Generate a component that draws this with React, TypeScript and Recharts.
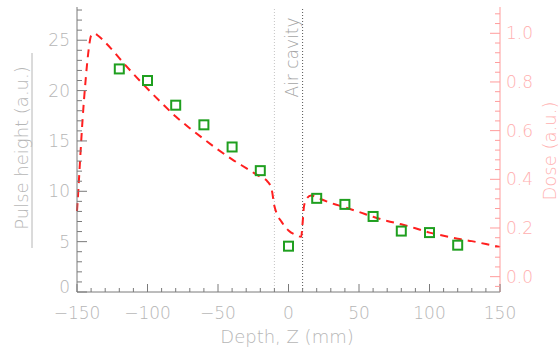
import { ComposedChart, Line, Scatter, XAxis, YAxis, ReferenceLine } from 'recharts';

// depth (mm) of the pulse height measurements
const PULSE_DEPTH = [-120, -100, -80, -60, -40, -20, 0, 20, 40, 60, 80, 100, 120];
const PULSE_HEIGHT = [22.15, 21.0, 18.55, 16.6, 14.4, 12.05, 4.55, 9.3, 8.7, 7.5, 6.05, 5.9, 4.65];

// dose curve (right axis)
const DOSE_DEPTH = [
  -150, -149, -148, -146, -144, -142, -140, -138, -135, -130, -125, -120, -110, -100, -90, -80, -70,
  -60, -50, -40, -30, -20, -15, -12, -10, -8, -5, 0, 5, 9, 10, 11, 13, 16, 20, 25, 30, 40, 50, 60,
  70, 80, 90, 100, 110, 120, 130, 140, 150,
];
const DOSE = [
  0.27, 0.36, 0.46, 0.65, 0.8, 0.92, 0.99, 1.0, 0.99, 0.963, 0.932, 0.898, 0.833, 0.772, 0.714,
  0.658, 0.61, 0.565, 0.522, 0.482, 0.446, 0.41, 0.392, 0.36, 0.29, 0.255, 0.226, 0.19, 0.172,
  0.164, 0.22, 0.29, 0.322, 0.334, 0.326, 0.314, 0.303, 0.285, 0.266, 0.246, 0.229, 0.215, 0.199,
  0.181, 0.168, 0.156, 0.146, 0.134, 0.122,
];

const CAVITY_EDGES = [-10, 10];

const X_TICKS = [
  -150, -140, -130, -120, -110, -100, -90, -80, -70, -60, -50, -40, -30, -20, -10, 0, 10, 20, 30,
  40, 50, 60, 70, 80, 90, 100, 110, 120, 130, 140, 150,
];
const PULSE_TICKS = [
  0, 1, 2, 3, 4, 5, 6, 7, 8, 9, 10, 11, 12, 13, 14, 15, 16, 17, 18, 19, 20, 21, 22, 23, 24, 25, 26,
  27, 28,
];
const DOSE_TICKS = [
  -0.04, 0, 0.04, 0.08, 0.12, 0.16, 0.2, 0.24, 0.28, 0.32, 0.36, 0.4, 0.44, 0.48, 0.52, 0.56, 0.6,
  0.64, 0.68, 0.72, 0.76, 0.8, 0.84, 0.88, 0.92, 0.96, 1.0, 1.04, 1.08,
];

const doseData = DOSE_DEPTH.map((x, i) => ({ x, dose: DOSE[i] }));
const pulseData = PULSE_DEPTH.map((x, i) => ({ x, pulse: PULSE_HEIGHT[i] }));

const FONT = "'DejaVu Sans', sans-serif";
const AXIS = '#7a7a7a';
const TEXT = '#b6b6b6';
const PINK_AXIS = '#ff9c9c';
const PINK_TEXT = '#ffb0b0';

const fmtX = (v: number) => (v < 0 ? '\u2212' + Math.abs(v) : String(v));

function BottomTick({ x, y, payload }: any) {
  const v = payload.value;
  const major = v % 50 === 0;
  return (
    <g>
      <line x1={x} y1={y} x2={x} y2={y - (major ? 8 : 4)} stroke={AXIS} />
      {major && (
        <text x={x} y={y + 21} textAnchor="middle" dominantBaseline="central" fontSize={17}
          fontFamily={FONT} fontWeight={300} fill={TEXT}>
          {fmtX(v)}
        </text>
      )}
    </g>
  );
}

function TopTick({ x, y, payload }: any) {
  const major = payload.value % 50 === 0;
  return <line x1={x} y1={y} x2={x} y2={y + (major ? 8 : 4)} stroke={AXIS} />;
}

function LeftTick({ x, y, payload }: any) {
  const v = payload.value;
  const major = v % 5 === 0;
  return (
    <g>
      <line x1={x} y1={y} x2={x + (major ? 10 : 5)} y2={y} stroke={AXIS} />
      {major && (
        <text x={x - 7} y={v === 0 ? y - 5 : y} textAnchor="end" dominantBaseline="central"
          fontSize={17} fontFamily={FONT} fontWeight={300} fill={TEXT}>
          {v}
        </text>
      )}
    </g>
  );
}

function RightTick({ x, y, payload }: any) {
  const v = payload.value;
  const major = Math.round(v * 100) % 20 === 0;
  return (
    <g>
      <line x1={x} y1={y} x2={x - (major ? 10 : 5)} y2={y} stroke={PINK_AXIS} />
      {major && (
        <text x={x + 6} y={y} textAnchor="start" dominantBaseline="central" fontSize={17}
          fontFamily={FONT} fontWeight={300} fill={PINK_TEXT}>
          {v.toFixed(1)}
        </text>
      )}
    </g>
  );
}

function LeftTitle({ viewBox }: any) {
  const cx = viewBox.x + 21.7;
  const cy = viewBox.y + 141;
  return (
    <g>
      <text x={cx} y={cy} transform={`rotate(-90 ${cx} ${cy})`} textAnchor="middle"
        dominantBaseline="central" fontSize={18} fontFamily={FONT} fontWeight={300} fill={TEXT}>
        Pulse height (a.u.)
      </text>
      <line x1={viewBox.x + 32} x2={viewBox.x + 32} y1={viewBox.y + 46} y2={viewBox.y + 241}
        stroke={TEXT} />
    </g>
  );
}

function RightTitle({ viewBox }: any) {
  const cx = viewBox.x + 49.3;
  const cy = viewBox.y + 144;
  return (
    <text x={cx} y={cy} transform={`rotate(-90 ${cx} ${cy})`} textAnchor="middle"
      dominantBaseline="central" fontSize={18} fontFamily={FONT} fontWeight={300} fill={PINK_TEXT}>
      Dose (a.u.)
    </text>
  );
}

function BottomTitle({ viewBox }: any) {
  return (
    <text x={viewBox.x + viewBox.width / 2 - 1.5} y={viewBox.y + 44.7} textAnchor="middle"
      dominantBaseline="central" fontSize={18} fontFamily={FONT} fontWeight={300} fill={TEXT}>
      Depth, Z (mm)
    </text>
  );
}

function CavityLabel({ viewBox }: any) {
  const cx = viewBox.x + 3.5;
  const cy = viewBox.y + 50.5;
  return (
    <text x={cx} y={cy} transform={`rotate(-90 ${cx} ${cy})`} textAnchor="middle"
      dominantBaseline="central" fontSize={17} fontFamily={FONT} fontWeight={300} fill="#a4a4a4">
      Air cavity
    </text>
  );
}

const Square = ({ cx, cy }: any) => (
  <rect x={cx - 4.5} y={cy - 4.5} width={9} height={9} fill="none" stroke="#1f9f1f" strokeWidth={2} />
);

export default function App() {
  return (
    <div style={{ position: 'absolute', left: 0, top: 0, width: 559, height: 351, background: '#fff' }}>
      <ComposedChart width={559} height={351} margin={{ top: 7, right: 0, bottom: 0, left: 0 }}>
        <XAxis xAxisId={0} dataKey="x" type="number" domain={[-150, 150]} ticks={X_TICKS}
          interval={0} tickSize={0} tickMargin={0} tickLine={false} height={59}
          axisLine={{ stroke: AXIS }} tick={<BottomTick />} label={<BottomTitle />} />
        <XAxis xAxisId="top" orientation="top" dataKey="x" type="number" domain={[-150, 150]}
          ticks={X_TICKS} interval={0} tickSize={0} tickMargin={0} tickLine={false} height={0}
          axisLine={{ stroke: AXIS }} tick={<TopTick />} />
        <YAxis yAxisId="left" orientation="left" type="number" domain={[0, 28.3]} ticks={PULSE_TICKS}
          interval={0} tickSize={0} tickMargin={0} tickLine={false} width={77}
          axisLine={{ stroke: AXIS }} tick={<LeftTick />} label={<LeftTitle />} />
        <YAxis yAxisId="right" orientation="right" type="number" domain={[-0.063, 1.108]}
          ticks={DOSE_TICKS} interval={0} tickSize={0} tickMargin={0} tickLine={false} width={59}
          axisLine={{ stroke: PINK_AXIS }} tick={<RightTick />} label={<RightTitle />} />

        <ReferenceLine yAxisId="left" x={CAVITY_EDGES[0]} stroke="#c4c4c4" strokeDasharray="1 2" />
        <ReferenceLine yAxisId="left" x={CAVITY_EDGES[1]} stroke="#555" strokeDasharray="1 2" />
        <ReferenceLine yAxisId="left" x={0} stroke="none" label={<CavityLabel />} />

        <Line yAxisId="right" data={doseData} dataKey="dose" type="monotone" stroke="#ff1f1f"
          strokeWidth={2} strokeDasharray="8 6" dot={false} isAnimationActive={false} />
        <Scatter yAxisId="left" data={pulseData} dataKey="pulse" shape={<Square />}
          isAnimationActive={false} />
      </ComposedChart>
    </div>
  );
}
